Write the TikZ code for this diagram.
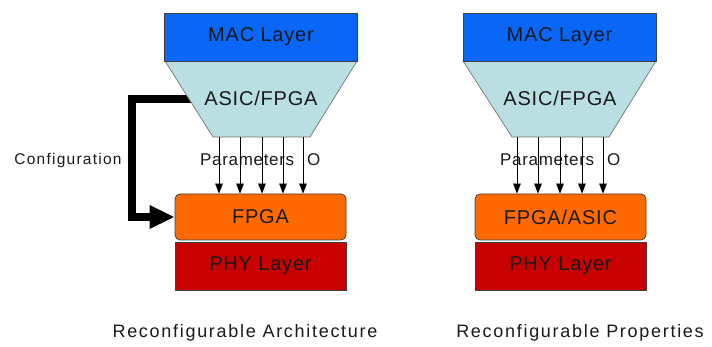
\documentclass[tikz,border=0pt]{standalone}
\usepackage{fontspec}
\setmainfont{Liberation Sans}
\newfontfamily\lbl[LetterSpace=4]{Liberation Sans}
\usetikzlibrary{arrows.meta}
\definecolor{macblue}{HTML}{0A66F7}
\definecolor{asiccyan}{HTML}{B9DFE3}
\definecolor{fpgaorange}{HTML}{FF6A00}
\definecolor{phyred}{HTML}{C80000}
\definecolor{txt}{HTML}{1A1A1A}
\begin{document}
\begin{tikzpicture}[x=1pt,y=-1pt,
  layerbox/.style={draw=black!75, line width=0.8pt, inner sep=0pt, text=txt,
    font=\lbl\fontsize{20}{23}\selectfont},
  macbox/.style={layerbox, fill=macblue, minimum width=193pt, minimum height=48pt},
  fpgabox/.style={layerbox, fill=fpgaorange, rounded corners=5pt, minimum width=171pt, minimum height=46pt},
  phybox/.style={layerbox, fill=phyred, minimum width=171pt, minimum height=48pt},
  trap/.style={fill=asiccyan, draw=black!55, line width=0.7pt},
  traptext/.style={inner sep=0pt, text=txt, font=\lbl\fontsize{20}{23}\selectfont},
  ptext/.style={inner sep=0pt, anchor=west, text=txt, font=\lbl\fontsize{17}{20}\selectfont},
  caption/.style={inner sep=0pt, text=txt, font=\addfontfeature{LetterSpace=9.5}\fontsize{18}{21}\selectfont},
  param/.style={line width=0.8pt, -{Triangle[length=10pt,width=7.5pt]}},
  cfgarrow/.style={line width=7.5pt, line join=miter, -{Triangle[length=25pt,width=22pt]}}
]
\useasboundingbox (0,0) rectangle (712,347);
\fill[white] (0,0) rectangle (712,347);

% ---------- left: Reconfigurable Architecture ----------
\node[fpgabox] (fpgaL) at (260.5,217) {FPGA};
\node[phybox] (phyL) at (260.5,266) {PHY Layer};

\coordinate (cfgS) at (200,99);
\coordinate (cfgA) at (132,99);
\coordinate (cfgB) at (132,217);
\draw[cfgarrow] (cfgS) -- (cfgA) -- (cfgB) -- (fpgaL.west);

\draw[trap] (165,61) -- (357,61) -- (310,137) -- (213,137) -- cycle;
\node[macbox] (macL) at (261,37) {MAC Layer};
\node[traptext] (asicL) at (261,98) {ASIC/FPGA};

\node[ptext] (parL) at (200,160) {Parameters};
\node[ptext] (oL) at (307,160) {O};
\foreach \x/\n in {219/1,240/2,262/3,283/4,303/5} {
  \coordinate (pL\n) at (\x,137);
  \draw[param] (pL\n) -- (pL\n |- fpgaL.north);
}

\node[inner sep=0pt, text=txt, font=\addfontfeature{LetterSpace=8}\fontsize{15.5}{18}\selectfont] (cfgtext) at (68,160) {Configuration};

\node[caption] (capL) at (245,333) {Reconfigurable Architecture};

% ---------- right: Reconfigurable Properties ----------
\draw[trap] (463,61) -- (656,61) -- (609,137) -- (512,137) -- cycle;
\node[macbox] (macR) at (559.5,37) {MAC Layer};
\node[traptext] (asicR) at (560,98) {ASIC/FPGA};
\node[fpgabox] (fpgaR) at (560.5,217) {FPGA/ASIC};
\node[phybox] (phyR) at (560.5,266) {PHY Layer};

\node[ptext] (parR) at (500,160) {Parameters};
\node[ptext] (oR) at (607,160) {O};
\foreach \x/\n in {517/1,538/2,560/3,582/4,603/5} {
  \coordinate (pR\n) at (\x,137);
  \draw[param] (pR\n) -- (pR\n |- fpgaR.north);
}

\node[caption] (capR) at (580,333) {Reconfigurable Properties};
\end{tikzpicture}
\end{document}
